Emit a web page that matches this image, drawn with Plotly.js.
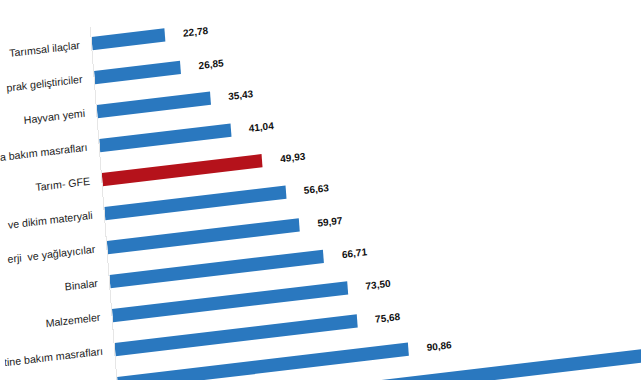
<!DOCTYPE html>
<html>
<head>
<meta charset="utf-8">
<script src="https://cdn.plot.ly/plotly-3.0.1.min.js"></script>
<style>
html,body{margin:0;padding:0;background:#fff;width:641px;height:380px;overflow:hidden;}
#chart{width:760px;height:448px;transform-origin:0 0;
  transform:matrix(1,-0.118,0.0753,1,-20.8,19.5);}
</style>
</head>
<body>
<div id="chart"></div>
<script>
// Category labels as visible in the (cropped, tilted) reference photo
const categories = [
  "Tarımsal ilaçlar",
  "prak geliştiriciler",
  "Hayvan yemi",
  "a bakım masrafları",
  "Tarım- GFE",
  "ve dikim materyali",
  "erji  ve yağlayıcılar",
  "Binalar",
  "Malzemeler",
  "tine bakım masrafları",
  "Veteriner harcamaları",
  "Diğer mal ve hizmetler"
];
const values = [22.78, 26.85, 35.43, 41.04, 49.93, 56.63, 59.97, 66.71, 73.50, 75.68, 90.86, 185.00];
const visibleLabelCount = 10;   // rows whose category label shows in the picture
const visibleValueCount = 11;   // rows whose value label shows in the picture
const highlight = "Tarım- GFE";

const colors = categories.map(c => c === highlight ? "#b5121b" : "#2a78bf");
const valueText = values.map(v => v.toFixed(2).replace(".", ","));
const tickText = categories.map((c, i) => i < visibleLabelCount ? c : "");

const trace = {
  type: "bar",
  orientation: "h",
  x: values,
  y: categories,
  marker: {color: colors},
  width: 0.39,
  hoverinfo: "none",
  cliponaxis: true
};

const annotations = values.slice(0, visibleValueCount).map((v, i) => ({
  x: v, y: categories[i], xref: "x", yref: "y",
  text: "<b>" + valueText[i] + "</b>", showarrow: false, xanchor: "left", xshift: 16,
  font: {family: "Liberation Sans, Arial, sans-serif", size: 10, color: "#111"}
}));

const layout = {
  width: 760, height: 448,
  margin: {l: 110, r: 0, t: 20, b: 20},
  paper_bgcolor: "#fff", plot_bgcolor: "#fff",
  showlegend: false,
  xaxis: {range: [0, 203.1], visible: false, fixedrange: true},
  yaxis: {
    type: "category",
    range: [11.5, -0.5],
    tickmode: "array", tickvals: categories, ticktext: tickText,
    showline: true, linecolor: "#e6e6e6", linewidth: 1,
    showgrid: false, zeroline: false,
    ticks: "", ticklabelstandoff: 9,
    tickfont: {family: "Liberation Sans, Arial, sans-serif", size: 10.6, color: "#222"},
    automargin: false
  },
  annotations: annotations
};

Plotly.newPlot("chart", [trace], layout, {staticPlot: true, displayModeBar: false});
</script>
</body>
</html>
